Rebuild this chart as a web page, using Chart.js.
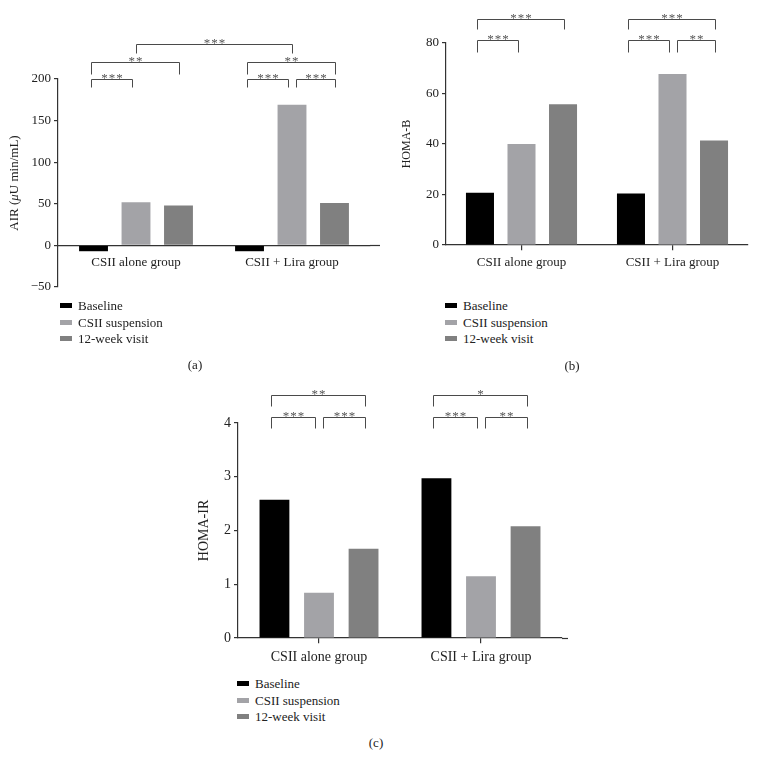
<!DOCTYPE html>
<html>
<head>
<meta charset="utf-8">
<script src="https://cdn.jsdelivr.net/npm/chart.js@4.4.1/dist/chart.umd.min.js"></script>
<style>
  html, body { margin: 0; padding: 0; background: #fff; }
  #wrap { position: relative; width: 758px; height: 757px; background: #fff; overflow: hidden;
          font-family: "Liberation Serif", "DejaVu Serif", serif; color: #222; }
  canvas { position: absolute; }
  .leg { position: absolute; font-size: 13px; line-height: 16px; white-space: nowrap; }
  .leg .mk { position: absolute; width: 12px; height: 5px; }
  .lab { position: absolute; font-size: 13px; transform: translate(-50%, -50%); white-space: nowrap; }
</style>
</head>
<body>
<div id="wrap">
  <canvas id="ca" width="380" height="300" style="left:0;top:0"></canvas>
  <canvas id="cb" width="378" height="290" style="left:380px;top:0"></canvas>
  <canvas id="cc" width="380" height="300" style="left:190px;top:370px"></canvas>
</div>
<script>
// ---------------- data ----------------
const categories = ['CSII alone group', 'CSII + Lira group'];
const seriesNames = ['Baseline', 'CSII suspension', '12-week visit'];
const seriesColors = ['#000000', '#a3a3a7', '#808080'];

const airBaseline   = [-7, -7];
const airSuspension = [52, 169];
const airWeek12     = [48, 51];

const homaBBaseline   = [20.7, 20.4];
const homaBSuspension = [40.0, 67.7];
const homaBWeek12     = [55.7, 41.4];

const homaIRBaseline   = [2.57, 2.97];
const homaIRSuspension = [0.84, 1.15];
const homaIRWeek12     = [1.66, 2.08];

const airTitle    = [['AIR (', false], ['\u03bc', true], ['U min/mL)', false]];
const homaBTitle  = [['HOMA-B', false]];
const homaIRTitle = [['HOMA-IR', false]];

// significance brackets: from/to = [group index, series index]; level/drop in axis units
const airBrackets = [
  { from: [0, 0], to: [0, 1], level: 200, drop: 190, label: '***' },
  { from: [0, 0], to: [0, 2], level: 220, drop: 206, label: '**' },
  { from: [0, 1], to: [1, 1], level: 242, drop: 231, label: '***' },
  { from: [1, 0], to: [1, 2], level: 220, drop: 206, label: '**' },
  { from: [1, 0], to: [1, 1], level: 200, drop: 190, label: '***' },
  { from: [1, 1], to: [1, 2], level: 200, drop: 190, label: '***' }
];
const homaBBrackets = [
  { from: [0, 0], to: [0, 1], level: 81.3, drop: 76.4, label: '***' },
  { from: [0, 0], to: [0, 2], level: 89.4, drop: 85.4, label: '***' },
  { from: [1, 0], to: [1, 1], level: 81.3, drop: 76.4, label: '***' },
  { from: [1, 1], to: [1, 2], level: 81.3, drop: 76.4, label: '**' },
  { from: [1, 0], to: [1, 2], level: 89.4, drop: 85.4, label: '***' }
];
const homaIRBrackets = [
  { from: [0, 0], to: [0, 1], level: 4.12, drop: 3.91, label: '***' },
  { from: [0, 1], to: [0, 2], level: 4.12, drop: 3.91, label: '***' },
  { from: [0, 0], to: [0, 2], level: 4.53, drop: 4.32, label: '**' },
  { from: [1, 0], to: [1, 1], level: 4.12, drop: 3.91, label: '***' },
  { from: [1, 1], to: [1, 2], level: 4.12, drop: 3.91, label: '**' },
  { from: [1, 0], to: [1, 2], level: 4.53, drop: 4.32, label: '*' }
];

// ---------------- plugins ----------------
const FONT = '"Liberation Serif", "DejaVu Serif", serif';
Chart.defaults.font.family = FONT;
Chart.defaults.color = '#222';

const sigPlugin = {
  id: 'sig',
  afterDraw(chart, args, o) {
    const list = o.brackets || [];
    const ctx = chart.ctx, ys = chart.scales.y;
    const cx = (p) => chart.getDatasetMeta(p[1]).data[p[0]].x;
    ctx.save();
    ctx.strokeStyle = '#4a4a4a';
    ctx.lineWidth = 1;
    for (const b of list) {
      const cross = b.from[0] !== b.to[0];
      const x1 = Math.round(cx(b.from) + (cross ? 0 : (b.from[1] === 1 ? 4 : -3))) + 0.5;
      const x2 = Math.round(cx(b.to) + (cross ? 0 : (b.to[1] === 1 ? -4 : 1))) + 0.5;
      const yt = Math.round(ys.getPixelForValue(b.level)) + 0.5;
      const yd = Math.round(ys.getPixelForValue(b.drop)) + 0.5;
      ctx.beginPath();
      ctx.moveTo(x1, yd); ctx.lineTo(x1, yt); ctx.lineTo(x2, yt); ctx.lineTo(x2, yd);
      ctx.stroke();
      // stars
      ctx.fillStyle = '#555';
      ctx.font = '13px ' + FONT;
      ctx.textAlign = 'center';
      ctx.textBaseline = 'alphabetic';
      const n = b.label.length, gap = 7.5, mid = (x1 + x2) / 2;
      for (let i = 0; i < n; i++) {
        ctx.fillText('*', mid + (i - (n - 1) / 2) * gap, yt + 2);
      }
    }
    ctx.restore();
  }
};

const yTitlePlugin = {
  id: 'yTitle',
  afterDraw(chart, args, o) {
    if (!o.segments) return;
    const ctx = chart.ctx, a = chart.chartArea;
    ctx.save();
    ctx.translate(o.x, (a.top + a.bottom) / 2);
    ctx.rotate(-Math.PI / 2);
    ctx.fillStyle = '#222';
    ctx.textBaseline = 'middle';
    ctx.textAlign = 'left';
    const fonts = o.segments.map(s => (s[1] ? 'italic ' : '') + o.size + 'px ' + FONT);
    let total = 0;
    o.segments.forEach((s, i) => { ctx.font = fonts[i]; total += ctx.measureText(s[0]).width; });
    let x = -total / 2;
    o.segments.forEach((s, i) => { ctx.font = fonts[i]; ctx.fillText(s[0], x, 0); x += ctx.measureText(s[0]).width; });
    ctx.restore();
  }
};

const axisExtendPlugin = {
  id: 'axisExt',
  afterDraw(chart, args, o) {
    if (!o.px) return;
    const ctx = chart.ctx, a = chart.chartArea;
    const y = Math.round(chart.scales.y.getPixelForValue(0)) + 0.5;
    ctx.save();
    ctx.strokeStyle = '#333'; ctx.lineWidth = 1.2;
    ctx.beginPath(); ctx.moveTo(a.right, y); ctx.lineTo(a.right + o.px, y); ctx.stroke();
    ctx.restore();
  }
};

// ---------------- builder ----------------
function makeChart(id, cfg) {
  const values = cfg.values;
  return new Chart(document.getElementById(id), {
    type: 'bar',
    data: {
      labels: categories,
      datasets: seriesNames.map((n, i) => ({
        label: n,
        data: values[i],
        backgroundColor: seriesColors[i],
        borderWidth: 0,
        barPercentage: cfg.barPct,
        categoryPercentage: cfg.catPct
      }))
    },
    options: {
      responsive: false,
      animation: false,
      layout: { padding: cfg.padding },
      plugins: {
        legend: { display: false },
        tooltip: { enabled: false },
        sig: { brackets: cfg.brackets },
        yTitle: { segments: cfg.title, x: cfg.titleX, size: cfg.titleSize },
        axisExt: { px: cfg.extend || 0 }
      },
      scales: {
        x: {
          type: 'category',
          position: { y: 0 },
          offset: true,
          grid: { display: true, drawOnChartArea: false, offset: false, drawTicks: cfg.xTicks, tickLength: 5, color: '#333', lineWidth: 1.2 },
          border: { display: true, color: '#333', width: 1.2 },
          ticks: { font: { size: cfg.fontSize }, color: '#222', padding: cfg.xPad, maxRotation: 0 }
        },
        y: {
          min: cfg.min, max: cfg.max,
          afterFit: (s) => { s.width = cfg.yWidth; },
          grid: { display: true, drawOnChartArea: false, drawTicks: true, tickLength: 4, color: '#333', lineWidth: 1.2 },
          border: { display: true, color: '#333', width: 1.2 },
          ticks: {
            stepSize: cfg.step, font: { size: cfg.fontSize }, color: '#222', padding: 3,
            callback: (v) => (v < 0 ? '\u2212' + Math.abs(v) : String(v))
          }
        }
      }
    },
    plugins: [sigPlugin, yTitlePlugin, axisExtendPlugin]
  });
}

makeChart('ca', {
  values: [airBaseline, airSuspension, airWeek12],
  brackets: airBrackets, title: airTitle, titleX: 15, titleSize: 13,
  min: -50, max: 200, step: 50, yWidth: 58,
  padding: { top: 79, bottom: 13, left: 0, right: 10 },
  barPct: 0.68, catPct: 0.817, fontSize: 13, xTicks: false, xPad: 9, extend: 14
});
makeChart('cb', {
  values: [homaBBaseline, homaBSuspension, homaBWeek12],
  brackets: homaBBrackets, title: homaBTitle, titleX: 27, titleSize: 12,
  min: 0, max: 80, step: 20, yWidth: 66,
  padding: { top: 43, bottom: 45, left: 0, right: 10 },
  barPct: 0.675, catPct: 0.825, fontSize: 13, xTicks: true, xPad: 5
});
makeChart('cc', {
  values: [homaIRBaseline, homaIRSuspension, homaIRWeek12],
  brackets: homaIRBrackets, title: homaIRTitle, titleX: 14, titleSize: 14,
  min: 0, max: 4, step: 1, yWidth: 48,
  padding: { top: 53, bottom: 32, left: 0, right: 8 },
  barPct: 0.67, catPct: 0.825, fontSize: 14, xTicks: true, xPad: 6, extend: 6
});

// ---------------- legends & panel labels (HTML text) ----------------
const wrap = document.getElementById('wrap');
const legendSpots = [
  { mk: 60, tx: 78, rows: [306, 323, 339] },
  { mk: 445, tx: 463, rows: [306, 323, 339] },
  { mk: 237, tx: 255, rows: [684, 701, 717] }
];
legendSpots.forEach(sp => {
  seriesNames.forEach((n, i) => {
    const row = document.createElement('div');
    row.className = 'leg';
    row.style.left = sp.tx + 'px';
    row.style.top = (sp.rows[i] - 8) + 'px';
    row.textContent = n;
    const mk = document.createElement('div');
    mk.className = 'mk';
    mk.style.left = (sp.mk - sp.tx) + 'px';
    mk.style.top = '5px';
    mk.style.background = seriesColors[i];
    row.appendChild(mk);
    wrap.appendChild(row);
  });
});
const panelLabels = [['(a)', 195, 365], ['(b)', 572, 366], ['(c)', 376, 743]];
panelLabels.forEach(p => {
  const d = document.createElement('div');
  d.className = 'lab';
  d.style.left = p[1] + 'px';
  d.style.top = p[2] + 'px';
  d.textContent = p[0];
  wrap.appendChild(d);
});
</script>
</body>
</html>
